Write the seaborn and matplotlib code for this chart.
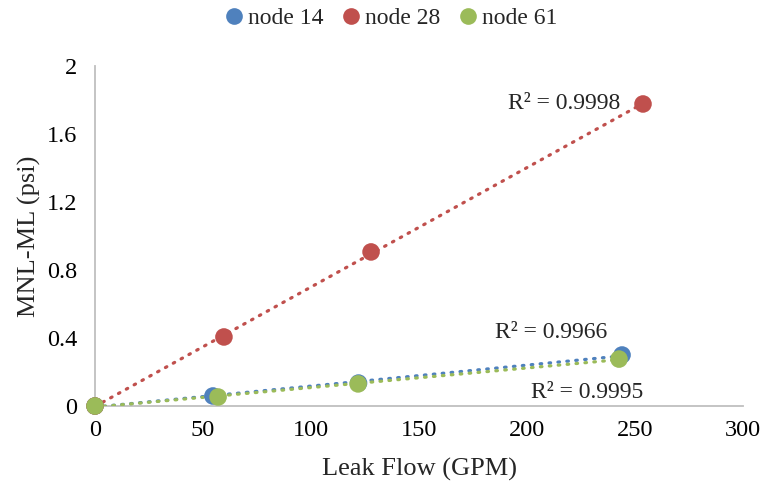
import numpy as np
import pandas as pd
import matplotlib
matplotlib.use("Agg")
import matplotlib.pyplot as plt
import seaborn as sns

series = ["node 14", "node 28", "node 61"]
x14 = [0, 54.6, 122, 244]
y14 = [0, 0.059, 0.135, 0.30]
x28 = [0, 59.7, 127.8, 253.7]
y28 = [0, 0.406, 0.906, 1.776]
x61 = [0, 57, 121.8, 242.6]
y61 = [0, 0.053, 0.13, 0.276]
r2_labels = ["R² = 0.9966", "R² = 0.9998", "R² = 0.9995"]
x_ticks = [0, 50, 100, 150, 200, 250, 300]
y_ticks = [0, 0.4, 0.8, 1.2, 1.6, 2]
y_tick_labels = ["0", "0.4", "0.8", "1.2", "1.6", "2"]
colors = ["#4F81BD", "#C0504D", "#9BBB59"]

sns.set_theme(style="white")
plt.rcParams["font.family"] = ["Liberation Serif", "DejaVu Serif"]

df = pd.DataFrame({
    "x": x14 + x28 + x61,
    "y": y14 + y28 + y61,
    "node": [series[0]] * len(x14) + [series[1]] * len(x28) + [series[2]] * len(x61),
})

fig = plt.figure(figsize=(7.66, 4.88), dpi=100)
ax = fig.add_axes([0.124, 0.168, 0.846, 0.697])

xs = [x14, x28, x61]
ys = [y14, y28, y61]
for xv, yv, c in zip(xs, ys, colors):
    m, b = np.polyfit(xv, yv, 1)
    xx = np.array([0, max(xv)])
    ax.plot(xx, m * xx + b, color=c, lw=2.3, linestyle=(0, (0.5, 2.3)),
            dash_capstyle="round", zorder=2)

sns.scatterplot(data=df, x="x", y="y", hue="node", palette=colors,
                s=160, edgecolor="none", ax=ax, zorder=3, legend=True,
                clip_on=False)

ax.set_xlim(0, 300)
ax.set_ylim(0, 2)
ax.set_xticks(x_ticks)
ax.set_yticks(y_ticks)
ax.set_yticklabels(y_tick_labels)
ax.tick_params(axis="both", labelsize=17.5, length=0, colors="#000000")
ax.tick_params(axis="y", pad=13)
ax.tick_params(axis="x", pad=10)
ax.set_xlabel("Leak Flow (GPM)", fontsize=19, labelpad=12)
ax.set_ylabel("MNL-ML (psi)", fontsize=19, labelpad=4)

for s in ["top", "right"]:
    ax.spines[s].set_visible(False)
for s in ["left", "bottom"]:
    ax.spines[s].set_color("#BFBFBF")
    ax.spines[s].set_linewidth(1.3)
    ax.spines[s].set_zorder(1)

ax.text(217, 1.78, r2_labels[1], fontsize=17, ha="center", va="center")
ax.text(211, 0.435, r2_labels[0], fontsize=17, ha="center", va="center")
ax.text(228, 0.082, r2_labels[2], fontsize=17, ha="center", va="center")

handles, labels = ax.get_legend_handles_labels()
ax.legend(handles, labels, loc="center", bbox_to_anchor=(0.455, 1.14),
          ncol=3, frameon=False, fontsize=17, handletextpad=0.1,
          columnspacing=0.65, markerscale=0.95, handlelength=1.0)

fig.savefig("out.png", dpi=100)
